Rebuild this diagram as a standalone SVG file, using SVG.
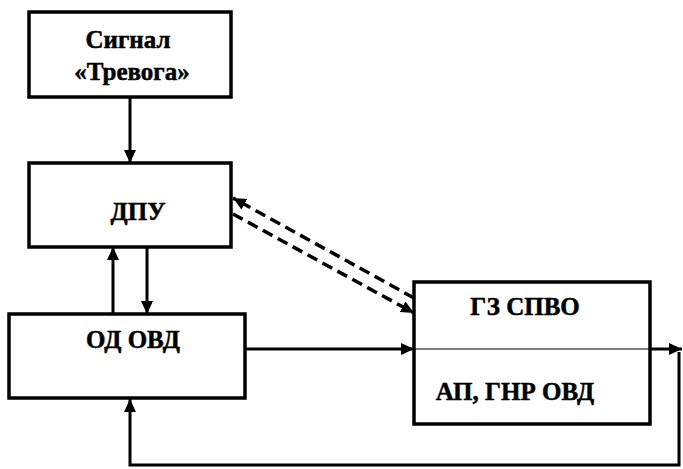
<svg xmlns="http://www.w3.org/2000/svg" width="683" height="469" viewBox="0 0 683 469">
<style>
.box{fill:#fff;stroke:#000;stroke-width:3.5}
.t{font-family:'Liberation Serif','DejaVu Serif',serif;font-weight:700;font-size:25px;fill:#000;stroke:#000;stroke-width:0.5;text-anchor:middle}
.c{fill:none;stroke:#000;stroke-width:3}
.d{fill:none;stroke:#000;stroke-width:3.5;stroke-dasharray:11 6}
</style>
<defs>
<marker id="ah" markerUnits="userSpaceOnUse" markerWidth="14" markerHeight="12" refX="13" refY="6" orient="auto-start-reverse">
<path d="M0,0 L13,6 L0,12 Z" fill="#000"/>
</marker>
</defs>
<rect width="683" height="469" fill="#fff"/>
<g id="connectors">
<line class="c" x1="130" y1="97" x2="130" y2="163" marker-end="url(#ah)"/>
<line class="c" x1="113" y1="314" x2="113" y2="247" marker-end="url(#ah)"/>
<line class="c" x1="147" y1="247" x2="147" y2="314" marker-end="url(#ah)"/>
<line class="c" x1="245" y1="349" x2="414" y2="349" marker-end="url(#ah)"/>
<line x1="414" y1="349" x2="650" y2="349" stroke="#000" stroke-width="1.2"/>
<line class="c" x1="650" y1="349" x2="682" y2="349" marker-end="url(#ah)"/>
<path class="c" d="M679,352 V465 H130 V399" marker-end="url(#ah)"/>
<line class="d" x1="414" y1="298" x2="233" y2="198" marker-end="url(#ah)"/>
<line class="d" x1="233" y1="214" x2="414" y2="313" marker-end="url(#ah)"/>
</g>
<g id="signal">
<rect class="box" x="29" y="12" width="202" height="85"/>
<text class="t" x="128" y="48">Сигнал</text>
<text class="t" x="132" y="80">«Тревога»</text>
</g>
<g id="dpu">
<rect class="box" x="29" y="163" width="202" height="84"/>
<text class="t" x="138" y="220">ДПУ</text>
</g>
<g id="odovd">
<rect class="box" x="9" y="314" width="236" height="84"/>
<text class="t" x="133" y="348">ОД ОВД</text>
</g>
<g id="gzspvo">
<rect class="box" x="414" y="282" width="236" height="142" style="fill:none"/>
<text class="t" x="525" y="315">ГЗ СПВО</text>
<text class="t" x="515" y="400">АП, ГНР ОВД</text>
</g>
</svg>
